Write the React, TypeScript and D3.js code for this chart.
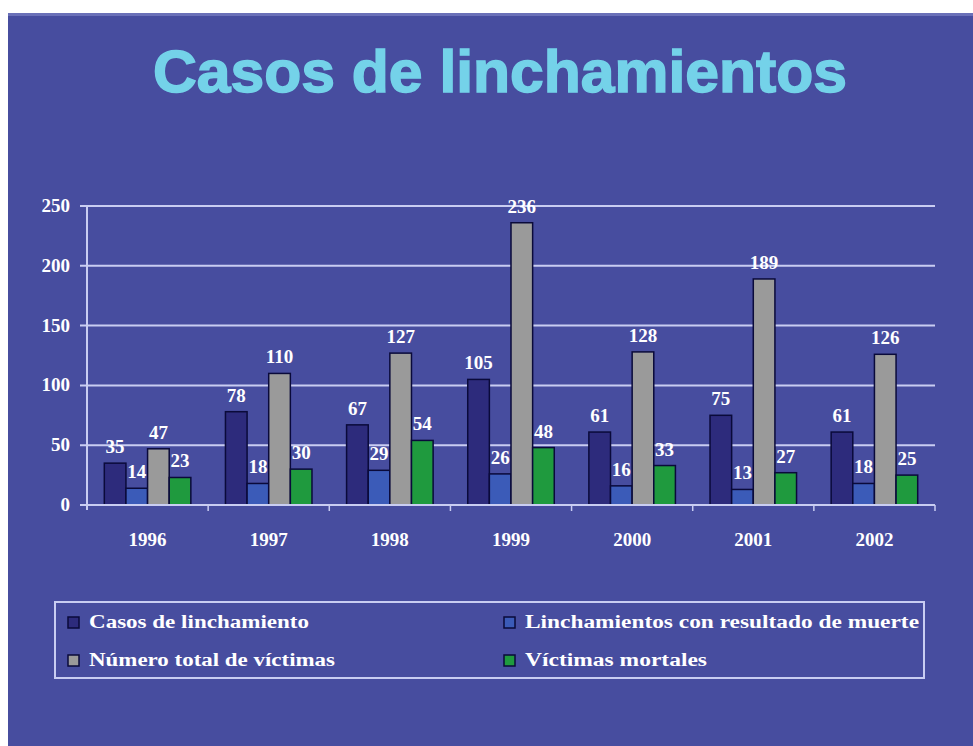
import React from "react";
import * as d3 from "d3";

const years = ["1996", "1997", "1998", "1999", "2000", "2001", "2002"];
const casos = [35, 78, 67, 105, 61, 75, 61];
const conMuerte = [14, 18, 29, 26, 16, 13, 18];
const totalVictimas = [47, 110, 127, 236, 128, 189, 126];
const victimasMortales = [23, 30, 54, 48, 33, 27, 25];
const seriesNames = [
  "Casos de linchamiento",
  "Linchamientos con resultado de muerte",
  "Número total de víctimas",
  "Víctimas mortales",
];
const yTicks = [0, 50, 100, 150, 200, 250];

const seriesColors = ["#2d2b7c", "#3b5bb8", "#9a9a9a", "#1f9a3e"];

export default function App() {
  const W = 973;
  const H = 746;
  const x0 = 87;
  const x1 = 935;
  const yTop = 206;
  const yBottom = 505;
  const series = [casos, conMuerte, totalVictimas, victimasMortales];

  const x = d3.scaleBand<string>().domain(years).range([x0, x1]).paddingInner(0).paddingOuter(0);
  const inner = d3
    .scaleBand<number>()
    .domain([0, 1, 2, 3])
    .range([0, x.bandwidth()])
    .paddingOuter(0.8)
    .paddingInner(0);
  const y = d3.scaleLinear().domain([0, 250]).range([yBottom, yTop]);

  const gridColor = "#c9cdf2";
  const serif = "'Liberation Serif', 'DejaVu Serif', serif";

  const legendItems = [
    { name: seriesNames[0], color: seriesColors[0], lx: 68, ly: 628, tw: 220 },
    { name: seriesNames[1], color: seriesColors[1], lx: 504, ly: 628, tw: 394 },
    { name: seriesNames[2], color: seriesColors[2], lx: 68, ly: 666, tw: 246 },
    { name: seriesNames[3], color: seriesColors[3], lx: 504, ly: 666, tw: 182 },
  ];

  return (
    <svg
      width={W}
      height={H}
      style={{ position: "absolute", left: 0, top: 0, display: "block" }}
    >
      <rect x={0} y={0} width={W} height={H} fill="#ffffff" />
      <rect x={8} y={13} width={W - 8} height={H - 13} fill="#474d9f" />
      <rect x={8} y={13} width={W - 8} height={3} fill="#6a70b8" />

      <text
        x={500}
        y={92}
        textAnchor="middle"
        fill="#74d2e9"
        stroke="#74d2e9"
        strokeWidth={1.5}
        fontFamily="'Liberation Sans', Arial, sans-serif"
        fontWeight="bold"
        fontSize={60}
        textLength={694}
        lengthAdjust="spacingAndGlyphs"
      >
        Casos de linchamientos
      </text>

      {/* gridlines */}
      {yTicks.map((t) => (
        <g key={t}>
          <line x1={80} x2={x1} y1={y(t)} y2={y(t)} stroke={gridColor} strokeWidth={2} />
          <text
            x={70}
            y={y(t) + 6}
            textAnchor="end"
            fill="#ffffff"
            fontFamily={serif}
            fontWeight="bold"
            fontSize={19}
          >
            {t}
          </text>
        </g>
      ))}

      {/* bars */}
      {years.map((yr, i) => (
        <g key={yr}>
          {series.map((s, k) => {
            const bx = (x(yr) as number) + (inner(k) as number);
            const bw = inner.bandwidth();
            return (
              <rect
                key={k}
                x={bx}
                y={y(s[i])}
                width={bw}
                height={yBottom - y(s[i])}
                fill={seriesColors[k]}
                stroke="#0a0a3a"
                strokeWidth={1.5}
              />
            );
          })}
        </g>
      ))}

      {/* axes */}
      <line x1={x0} x2={x0} y1={yTop} y2={yBottom + 5} stroke={gridColor} strokeWidth={2} />
      <line x1={x0} x2={x1} y1={yBottom} y2={yBottom} stroke={gridColor} strokeWidth={2} />
      {years.map((yr) => (
        <line
          key={"t" + yr}
          x1={(x(yr) as number) + x.bandwidth()}
          x2={(x(yr) as number) + x.bandwidth()}
          y1={yBottom}
          y2={yBottom + 6}
          stroke={gridColor}
          strokeWidth={1.5}
        />
      ))}

      {/* data labels */}
      {years.map((yr, i) => (
        <g key={"l" + yr}>
          {series.map((s, k) => {
            const cx = (x(yr) as number) + (inner(k) as number) + inner.bandwidth() / 2;
            return (
              <text
                key={k}
                x={cx}
                y={y(s[i]) - 10}
                textAnchor="middle"
                fill="#ffffff"
                fontFamily={serif}
                fontWeight="bold"
                fontSize={19}
              >
                {s[i]}
              </text>
            );
          })}
        </g>
      ))}

      {/* x labels */}
      {years.map((yr) => (
        <text
          key={"x" + yr}
          x={(x(yr) as number) + x.bandwidth() / 2}
          y={546}
          textAnchor="middle"
          fill="#ffffff"
          fontFamily={serif}
          fontWeight="bold"
          fontSize={19}
        >
          {yr}
        </text>
      ))}

      {/* legend */}
      <rect x={55} y={602} width={869} height={76} fill="none" stroke={gridColor} strokeWidth={2} />
      {legendItems.map((it) => (
        <g key={it.name}>
          <rect
            x={it.lx}
            y={it.ly - 11}
            width={11}
            height={11}
            fill={it.color}
            stroke="#0a0a3a"
            strokeWidth={1.5}
          />
          <text
            x={it.lx + 21}
            y={it.ly}
            fill="#ffffff"
            fontFamily={serif}
            fontWeight="bold"
            fontSize={18}
            textLength={it.tw}
            lengthAdjust="spacingAndGlyphs"
          >
            {it.name}
          </text>
        </g>
      ))}
    </svg>
  );
}
